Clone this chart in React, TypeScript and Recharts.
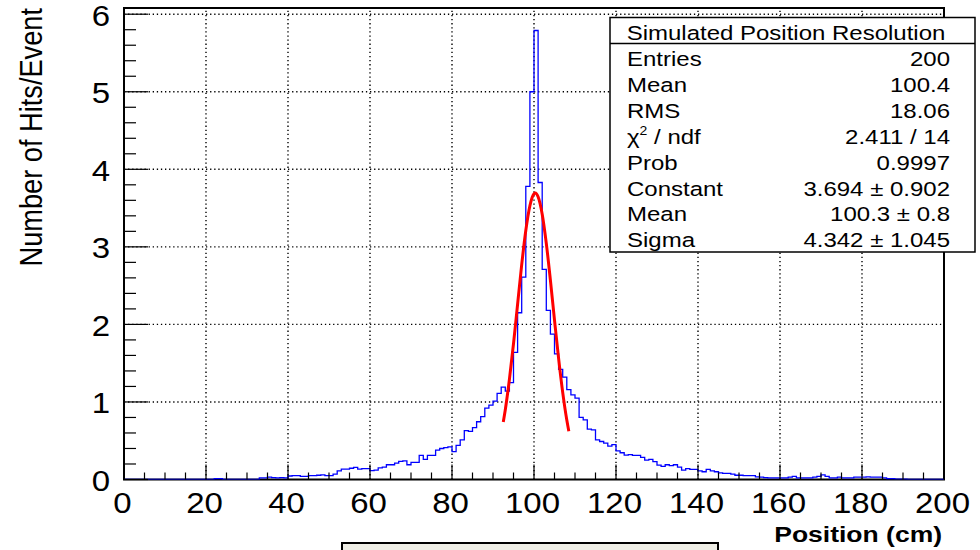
import React from "react";
import {
  ComposedChart,
  Line,
  XAxis,
  YAxis,
  ReferenceLine,
  ReferenceArea,
} from "recharts";

// ---- data ----
const binLow: number[] = Array.from({ length: 200 }, (_, i) => i);
const counts: number[] = [
  0, 0, 0, 0, 0, 0, 0, 0, 0, 0,
  0, 0, 0, 0, 0, 0, 0, 0, 0, 0,
  0, 0, 0.01, 0.01, 0, 0, 0, 0, 0, 0,
  0, 0, 0, 0.02, 0.02, 0.03, 0.025, 0.02, 0.025, 0.02,
  0.045, 0.05, 0.05, 0.04, 0.04, 0.05, 0.05, 0.055, 0.06, 0.05,
  0.05, 0.07, 0.11, 0.135, 0.135, 0.145, 0.157, 0.135, 0.14, 0.14,
  0.115, 0.12, 0.15, 0.16, 0.19, 0.19, 0.21, 0.235, 0.24, 0.19,
  0.22, 0.22, 0.31, 0.26, 0.31, 0.31, 0.38, 0.4, 0.41, 0.42,
  0.36, 0.44, 0.51, 0.63, 0.62, 0.67, 0.745, 0.81, 0.92, 0.96,
  1.01, 1.11, 1.19, 1.14, 1.25, 1.64, 2.15, 2.61, 3.78, 5.0,
  5.79, 3.83, 2.71, 2.18, 1.875, 1.62, 1.42, 1.32, 1.16, 1.09,
  1.05, 0.8, 0.77, 0.65, 0.64, 0.51, 0.49, 0.47, 0.43, 0.45,
  0.37, 0.345, 0.315, 0.32, 0.31, 0.31, 0.285, 0.25, 0.26, 0.23,
  0.185, 0.17, 0.19, 0.18, 0.19, 0.16, 0.12, 0.14, 0.13, 0.13,
  0.11, 0.1, 0.13, 0.11, 0.1, 0.085, 0.08, 0.08, 0.07, 0.055,
  0.055, 0.05, 0.05, 0.05, 0.035, 0.03, 0.025, 0.02, 0.02, 0.02,
  0.02, 0.02, 0.03, 0.04, 0.02, 0.02, 0.02, 0.02, 0.03, 0.04,
  0.06, 0.04, 0.02, 0.02, 0.03, 0.02, 0.02, 0.02, 0.03, 0.03,
  0.03, 0.035, 0.03, 0.03, 0.03, 0.02, 0.01, 0.01, 0.005, 0.005,
  0.005, 0, 0, 0, 0, 0, 0, 0, 0, 0,
];

const fitX: number[] = [92.5, 93, 94, 95, 96, 97, 98, 99, 100, 100.3, 101, 102, 103, 104, 105, 106, 107, 108, 108.5];
const fitY: number[] = [0.74, 0.9, 1.29, 1.75, 2.26, 2.77, 3.21, 3.53, 3.685, 3.694, 3.646, 3.42, 3.045, 2.57, 2.056, 1.561, 1.123, 0.766, 0.621];

const xTicks: number[] = [0, 5, 10, 15, 20, 25, 30, 35, 40, 45, 50, 55, 60, 65, 70, 75, 80, 85, 90, 95, 100, 105, 110, 115, 120, 125, 130, 135, 140, 145, 150, 155, 160, 165, 170, 175, 180, 185, 190, 195, 200];
const yTicks: number[] = [0, 0.2, 0.4, 0.6, 0.8, 1, 1.2, 1.4, 1.6, 1.8, 2, 2.2, 2.4, 2.6, 2.8, 3, 3.2, 3.4, 3.6, 3.8, 4, 4.2, 4.4, 4.6, 4.8, 5, 5.2, 5.4, 5.6, 5.8, 6];
const gridX: number[] = [20, 40, 60, 80, 100, 120, 140, 160, 180];
const gridY: number[] = [1, 2, 3, 4, 5, 6];
const yMax = 6.08;

const statsTitle = "Simulated Position Resolution";
const statsLabels: string[] = ["Entries", "Mean", "RMS", "CHI", "Prob", "Constant", "Mean", "Sigma"];
const statsValues: string[] = ["200", "100.4", "18.06", "2.411 / 14", "0.9997", "3.694 ± 0.902", "100.3 ± 0.8", "4.342 ± 1.045"];

const xTitle = "Position (cm)";
const yTitle = "Number of Hits/Event";

const histData = [
  ...counts.map((c, i) => ({ x: binLow[i], count: c })),
  { x: 200, count: counts[counts.length - 1] },
];
const fitData = fitX.map((x, i) => ({ x, fit: fitY[i] }));

const FONT = "'Liberation Sans', Arial, Helvetica, sans-serif";

const isMajorY = (v: number) => Math.abs(v - Math.round(v)) < 1e-6;

const XTick = (props: any) => {
  const { x, y, payload } = props;
  const v = payload.value as number;
  const major = v % 20 === 0;
  return (
    <g>
      <line x1={x} x2={x} y1={y} y2={y - (major ? 15 : 7)} stroke="#000" strokeWidth={1.2} />
      {major && (
        <text
          transform={`translate(${x - 1.5},${y + 33.5}) scale(1,0.87)`}
          textAnchor="middle"
          fontSize={33}
          fontFamily={FONT}
          fill="#000"
        >
          {v}
        </text>
      )}
    </g>
  );
};

const YTickLeft = (props: any) => {
  const { x, y, payload } = props;
  const v = payload.value as number;
  const major = isMajorY(v);
  return (
    <g>
      <line x1={x} x2={x + (major ? 24 : 12)} y1={y} y2={y} stroke="#000" strokeWidth={1.2} />
      {major && (
        <text
          transform={`translate(${x - 14},${y + 11.5}) scale(1,0.87)`}
          textAnchor="end"
          fontSize={33}
          fontFamily={FONT}
          fill="#000"
        >
          {Math.round(v)}
        </text>
      )}
    </g>
  );
};

const YTickRight = (props: any) => {
  const { x, y, payload } = props;
  const v = payload.value as number;
  const major = isMajorY(v);
  return <line x1={x} x2={x - (major ? 24 : 12)} y1={y} y2={y} stroke="#000" strokeWidth={1.2} />;
};

export default function App() {
  const rowY0 = 66;
  const rowStep = 25.9;
  return (
    <div style={{ position: "absolute", left: 0, top: 0, width: 980, height: 550, background: "#fff", overflow: "hidden" }}>
      <ComposedChart width={980} height={550} margin={{ top: 8, right: 36, bottom: 0, left: 0 }}>
        <XAxis
          dataKey="x"
          type="number"
          domain={[0, 200]}
          ticks={xTicks}
          interval={0}
          allowDataOverflow
          height={70.5}
          tickSize={0}
          tickMargin={0}
          tickLine={false}
          axisLine={false}
          tick={(p: any) => <XTick {...p} />}
        />
        <YAxis
          yAxisId="left"
          type="number"
          domain={[0, yMax]}
          ticks={yTicks}
          interval={0}
          allowDataOverflow
          width={124}
          tickSize={0}
          tickMargin={0}
          tickLine={false}
          axisLine={false}
          tick={(p: any) => <YTickLeft {...p} />}
        />
        <YAxis
          yAxisId="right"
          orientation="right"
          type="number"
          domain={[0, yMax]}
          ticks={yTicks}
          interval={0}
          allowDataOverflow
          width={0}
          tickSize={0}
          tickMargin={0}
          tickLine={false}
          axisLine={false}
          tick={(p: any) => <YTickRight {...p} />}
        />
        {gridX.map((gx) => (
          <ReferenceLine key={"gx" + gx} x={gx} yAxisId="left" stroke="#000" strokeWidth={1.4} strokeDasharray="1.3 2.8" />
        ))}
        {gridY.map((gy) => (
          <ReferenceLine key={"gy" + gy} y={gy} yAxisId="left" stroke="#000" strokeWidth={1.4} strokeDasharray="1.3 2.8" />
        ))}
        <Line
          yAxisId="left"
          data={histData}
          dataKey="count"
          type="stepAfter"
          stroke="#0000ff"
          strokeWidth={1.3}
          dot={false}
          activeDot={false}
          isAnimationActive={false}
        />
        <Line
          yAxisId="left"
          data={fitData}
          dataKey="fit"
          type="monotone"
          stroke="#ff0000"
          strokeWidth={3}
          dot={false}
          activeDot={false}
          isAnimationActive={false}
        />
        <ReferenceArea
          yAxisId="left"
          x1={0}
          x2={200}
          y1={0}
          y2={yMax}
          fill="none"
          fillOpacity={0}
          stroke="#000"
          strokeWidth={2}
          ifOverflow="visible"
        />
      </ComposedChart>
      <svg
        width={980}
        height={550}
        style={{ position: "absolute", left: 0, top: 0, pointerEvents: "none" }}
        fontFamily={FONT}
      >
        {/* y axis title */}
        <text
          transform="translate(42,8) scale(1,0.85) rotate(-90)"
          textAnchor="end"
          fontSize={32}
          fill="#000"
        >
          {yTitle}
        </text>
        {/* x axis title */}
        <text
          transform="translate(942,541.5) scale(1,0.82)"
          textAnchor="end"
          fontSize={26.5}
          fontWeight="bold"
          fill="#000"
        >
          {xTitle}
        </text>
        {/* stats box */}
        <rect x={610} y={17.5} width={365} height={234.5} fill="#fff" stroke="#000" strokeWidth={1.5} />
        <line x1={610} x2={975} y1={43.5} y2={43.5} stroke="#000" strokeWidth={1.5} />
        <text transform="translate(786,40) scale(1,0.87)" textAnchor="middle" fontSize={24} fill="#000">
          {statsTitle}
        </text>
        {statsLabels.map((lab, i) => (
          <g key={"row" + i}>
            <text
              transform={`translate(627,${rowY0 + rowStep * i}) scale(1,0.87)`}
              textAnchor="start"
              fontSize={24}
              fill="#000"
            >
              {lab === "CHI" ? (
                <>
                  <tspan>χ</tspan>
                  <tspan dy={-10} fontSize={14}>2</tspan>
                  <tspan dy={10}> / ndf</tspan>
                </>
              ) : (
                lab
              )}
            </text>
            <text
              transform={`translate(950,${rowY0 + rowStep * i}) scale(1,0.87)`}
              textAnchor="end"
              fontSize={24}
              fill="#000"
            >
              {statsValues[i]}
            </text>
          </g>
        ))}
        {/* title box (cut off at bottom) */}
        <rect x={342} y={543} width={376} height={20} fill="#efeee6" stroke="#000" strokeWidth={2} />
      </svg>
    </div>
  );
}
